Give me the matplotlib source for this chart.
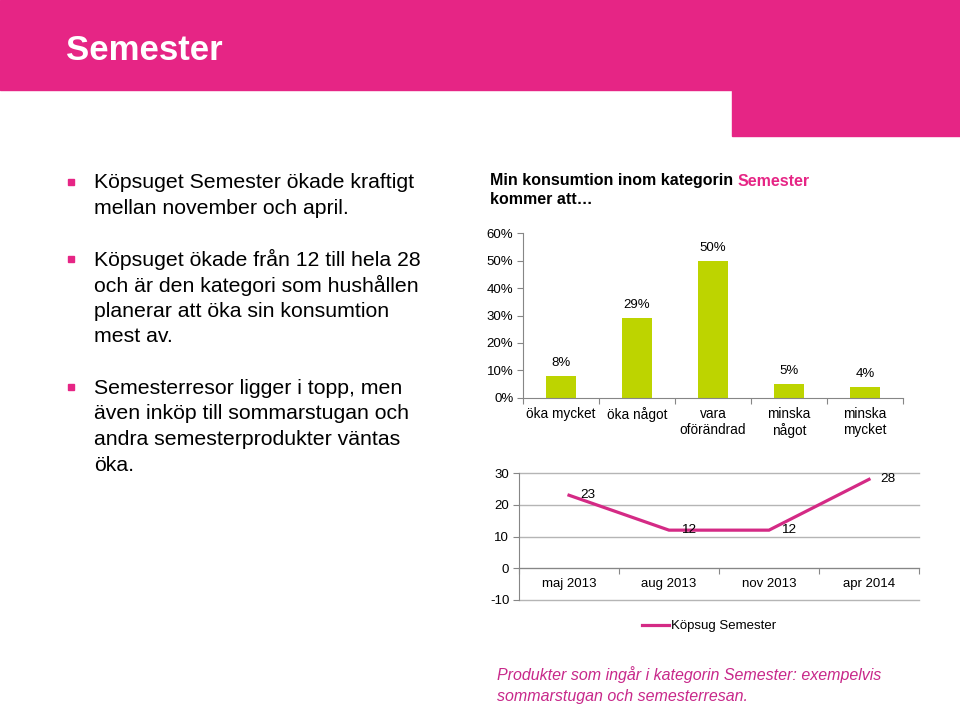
import matplotlib
matplotlib.use('Agg')
import matplotlib.pyplot as plt
from matplotlib.patches import Rectangle

plt.rcParams['font.family'] = ['Liberation Sans', 'DejaVu Sans']
plt.rcParams['axes.unicode_minus'] = False

W, H = 960, 707
PINK = '#E62585'
LINE_PINK = '#D42A85'
BAR_GREEN = '#BDD400'
AXIS_GREY = '#868686'
GRID_GREY = '#B5B5B5'

# data
bullets = [
    ['Köpsuget Semester ökade kraftigt', 'mellan november och april.'],
    ['Köpsuget ökade från 12 till hela 28', 'och är den kategori som hushållen',
     'planerar att öka sin konsumtion', 'mest av.'],
    ['Semesterresor ligger i topp, men', 'även inköp till sommarstugan och',
     'andra semesterprodukter väntas', 'öka.'],
]
bar_categories = ['öka mycket', 'öka något', 'vara\noförändrad', 'minska\nnågot', 'minska\nmycket']
bar_values = [8, 29, 50, 5, 4]
line_periods = ['maj 2013', 'aug 2013', 'nov 2013', 'apr 2014']
line_values = [23, 12, 12, 28]
line_label = 'Köpsug Semester'
footnote = ['Produkter som ingår i kategorin Semester: exempelvis',
            'sommarstugan och semesterresan.']


def rect(left, top, right, bottom):
    return [left / W, 1 - bottom / H, (right - left) / W, (bottom - top) / H]


def fy(y):
    return 1 - y / H


fig = plt.figure(figsize=(W / 100, H / 100), dpi=100)

# header band
fig.patches.append(Rectangle((0, fy(90)), 1, 90 / H, transform=fig.transFigure,
                             color=PINK, zorder=0))
fig.patches.append(Rectangle((732 / W, fy(136)), (W - 732) / W, 136 / H,
                             transform=fig.transFigure, color=PINK, zorder=0))
fig.text(66 / W, fy(50), 'Semester', color='white', fontsize=25,
         fontweight='bold', va='center', ha='left')

# bullet text
y = 182.7
for block in bullets:
    fig.patches.append(Rectangle((68 / W, fy(y + 2)), 6 / W, 6 / H,
                                 transform=fig.transFigure, color=PINK))
    for line in block:
        fig.text(94 / W, fy(y), line, fontsize=15.3, va='center', ha='left',
                 color='black')
        y += 25.7
    y += 25.7

# bar chart title
t1 = fig.text(490 / W, fy(181), 'Min konsumtion inom kategorin ', fontsize=11.5,
              fontweight='bold', va='center', ha='left')
fig.text(490 / W, fy(200), 'kommer att…', fontsize=11.5, fontweight='bold',
         va='center', ha='left')

ax1 = fig.add_axes(rect(523, 233.3, 903, 397.7))
ax1.annotate('Semester', xy=(1, 0.5), xycoords=t1, fontsize=11.5,
             fontweight='bold', color=PINK, va='center', ha='left',
             annotation_clip=False)
xs = list(range(len(bar_values)))
ax1.bar(xs, bar_values, width=0.4, color=BAR_GREEN, zorder=2)
for xv, v in zip(xs, bar_values):
    ax1.annotate(f'{v}%', xy=(xv, v), xytext=(0, 9.5), textcoords='offset points',
                 ha='center', va='center', fontsize=9.5)
ax1.set_xlim(-0.5, len(bar_values) - 0.5)
ax1.set_ylim(0, 60)
ax1.set_yticks(range(0, 61, 10))
ax1.set_yticklabels([f'{v}%' for v in range(0, 61, 10)])
ax1.set_xticks([i - 0.5 for i in range(len(bar_values) + 1)])
ax1.set_xticklabels([])
ax1.set_xticks(xs, bar_categories, minor=True)
ax1.tick_params(axis='x', which='major', length=4, color=AXIS_GREY, direction='out')
ax1.tick_params(axis='x', which='minor', length=0, pad=7, labelsize=9.8)
ax1.tick_params(axis='y', length=4, color=AXIS_GREY, labelsize=9.5, pad=3)
for lab in ax1.get_xticklabels(minor=True):
    lab.set_linespacing(1.1)
for side in ['top', 'right']:
    ax1.spines[side].set_visible(False)
for side in ['left', 'bottom']:
    ax1.spines[side].set_color(AXIS_GREY)
ax1.patch.set_alpha(0)

# line chart
ax2 = fig.add_axes(rect(519, 473, 919, 600))
lx = list(range(len(line_values)))
ax2.plot(lx, line_values, color=LINE_PINK, linewidth=2.3, label=line_label,
         zorder=3, solid_joinstyle='miter')
for xv, v in zip(lx, line_values):
    ax2.annotate(str(v), xy=(xv, v), xytext=(8.5, 0), textcoords='offset points',
                 ha='left', va='center', fontsize=9.7, zorder=4)
ax2.set_xlim(-0.5, len(line_values) - 0.5)
ax2.set_ylim(-10, 30)
ax2.set_yticks(range(-10, 31, 10))
ax2.yaxis.grid(True, color=GRID_GREY, linewidth=1)
for gl in ax2.get_ygridlines():
    gl.set_clip_on(False)
ax2.set_axisbelow(True)
ax2.spines['bottom'].set_position(('data', 0))
ax2.spines['bottom'].set_color(AXIS_GREY)
ax2.spines['left'].set_color(AXIS_GREY)
for side in ['top', 'right']:
    ax2.spines[side].set_visible(False)
ax2.set_xticks([i - 0.5 for i in range(len(line_values) + 1)])
ax2.set_xticklabels([])
ax2.set_xticks(lx, line_periods, minor=True)
ax2.tick_params(axis='x', which='major', length=4, color=AXIS_GREY, direction='out')
ax2.tick_params(axis='x', which='minor', length=0, pad=7, labelsize=9.5)
ax2.tick_params(axis='y', length=4, color=AXIS_GREY, labelsize=9.5, pad=3)
ax2.patch.set_alpha(0)

fig.legend(loc='center left', bbox_to_anchor=(637 / W, fy(626)), frameon=False,
           fontsize=9.5, handlelength=2.0, handletextpad=0.15, borderaxespad=0)

# footnote
for i, line in enumerate(footnote):
    fig.text(497 / W, fy(675 + 21 * i), line, fontsize=11.5, style='italic',
             color='#C8288A', va='center', ha='left')

fig.savefig('out.png', dpi=100)
